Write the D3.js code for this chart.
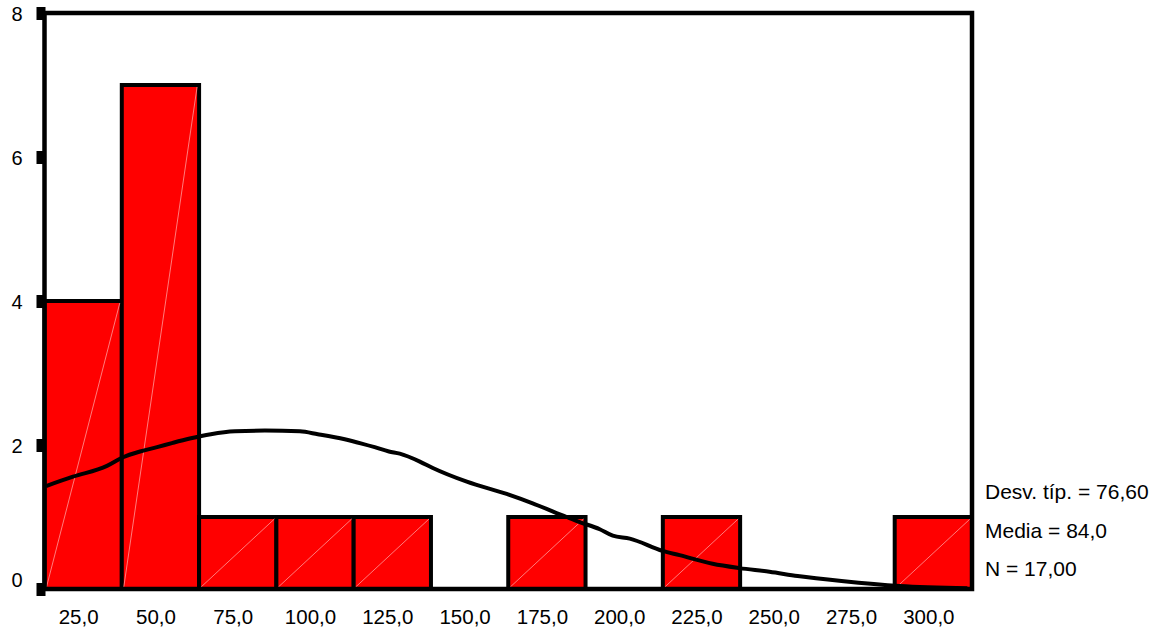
<!DOCTYPE html>
<html>
<head>
<meta charset="utf-8">
<script src="https://cdnjs.cloudflare.com/ajax/libs/d3/7.8.5/d3.min.js"></script>
<style>
  html, body { margin: 0; padding: 0; background: #fff; }
  svg { display: block; }
  text { font-family: "Liberation Sans", Arial, sans-serif; fill: #000; }
</style>
</head>
<body>
<svg id="chart" width="1172" height="631"></svg>
<script>
// ---- data ----
const binCenters = [25, 50, 75, 100, 125, 150, 175, 200, 225, 250, 275, 300];
const counts     = [4, 7, 1, 1, 1, 0, 1, 0, 1, 0, 0, 1];
const binWidth = 25;
const xTickLabels = ["25,0","50,0","75,0","100,0","125,0","150,0","175,0","200,0","225,0","250,0","275,0","300,0"];
const yTicks = [0, 2, 4, 6, 8];
// normal curve: [value, frequency]
const curveX = [13, 21.7, 32.7, 37.9, 43.4, 48.9, 54, 59.5, 66.3, 74.1, 83.8, 95.1, 100.9, 109.6, 115.1, 119.3, 123.9, 127.4, 133.9, 138.1, 149.1, 162, 170.4, 181.4, 185.6, 192.1, 196.3, 201.8, 212.4, 217.9, 228.6, 237.3, 247, 256.1, 270.3, 289.1, 311];
const curveY = [1.43, 1.56, 1.71, 1.83, 1.91, 1.97, 2.03, 2.09, 2.15, 2.19, 2.20, 2.19, 2.15, 2.08, 2.02, 1.97, 1.91, 1.88, 1.77, 1.68, 1.49, 1.32, 1.19, 1.00, 0.93, 0.83, 0.74, 0.70, 0.53, 0.47, 0.35, 0.29, 0.24, 0.18, 0.11, 0.04, 0.01];
const statLines = ["Desv. típ. = 76,60", "Media = 84,0", "N = 17,00"];

// ---- layout ----
const svg = d3.select("#chart");
const pL = 44.5, pR = 972, pT = 13, pB = 589;
const x = d3.scaleLinear().domain([12.5, 312.5]).range([pL, pR]);
const y = d3.scaleLinear().domain([0, 8]).range([pB, pT]);

const bins = binCenters.map((c, i) => ({ c, n: counts[i] })).filter(d => d.n > 0);

// bars
svg.append("g").selectAll("rect").data(bins).join("rect")
  .attr("x", d => x(d.c - binWidth / 2))
  .attr("y", d => y(d.n))
  .attr("width", d => x(d.c + binWidth / 2) - x(d.c - binWidth / 2))
  .attr("height", d => y(0) - y(d.n))
  .attr("fill", "#ff0000")
  .attr("stroke", "#000")
  .attr("stroke-width", 4);

// faint diagonals inside bars
svg.append("g").selectAll("line").data(bins).join("line")
  .attr("x1", d => x(d.c - binWidth / 2) + 2)
  .attr("y1", y(0) - 2)
  .attr("x2", d => x(d.c + binWidth / 2) - 2)
  .attr("y2", d => y(d.n) + 2)
  .attr("stroke", "#ff9a9a")
  .attr("stroke-width", 0.8);

// normal curve
const pts = curveX.map((v, i) => [v, curveY[i]]);
svg.append("path")
  .datum(pts)
  .attr("fill", "none")
  .attr("stroke", "#000")
  .attr("stroke-width", 4)
  .attr("stroke-linejoin", "round")
  .attr("d", d3.line().x(d => x(d[0])).y(d => y(d[1])).curve(d3.curveMonotoneX));

// frame
svg.append("rect")
  .attr("x", pL).attr("y", pT)
  .attr("width", pR - pL).attr("height", pB - pT)
  .attr("fill", "none").attr("stroke", "#000").attr("stroke-width", 4.5);

// y axis ticks (small blocks) and labels
const yAxis = d3.axisLeft(y).tickValues(yTicks).tickSize(0).tickFormat(d3.format("d"));
const ya = svg.append("g").attr("transform", `translate(${pL},0)`).call(yAxis);
ya.select(".domain").remove();
ya.selectAll(".tick text")
  .attr("x", -22)
  .attr("dy", d => d === 0 ? "-3px" : "7.5px")
  .style("font-size", "20px")
  .style("font-family", '"Liberation Sans", Arial, sans-serif');
ya.selectAll(".tick").append("rect")
  .attr("x", -8).attr("y", -6.5).attr("width", 9).attr("height", 13)
  .attr("fill", "#000");

// x axis labels
const xAxis = d3.axisBottom(x).tickValues(binCenters).tickSize(0)
  .tickFormat((d, i) => xTickLabels[i]);
const xa = svg.append("g").attr("transform", `translate(0,${pB})`).call(xAxis);
xa.select(".domain").remove();
xa.selectAll(".tick text")
  .attr("dx", -5)
  .attr("y", 35)
  .attr("dy", "0")
  .style("font-size", "20.5px")
  .style("font-family", '"Liberation Sans", Arial, sans-serif');

// stats text
svg.append("g").selectAll("text").data(statLines).join("text")
  .attr("x", 985)
  .attr("y", (d, i) => 499 + i * 38.5)
  .style("font-size", "21px")
  .text(d => d);
</script>
</body>
</html>
